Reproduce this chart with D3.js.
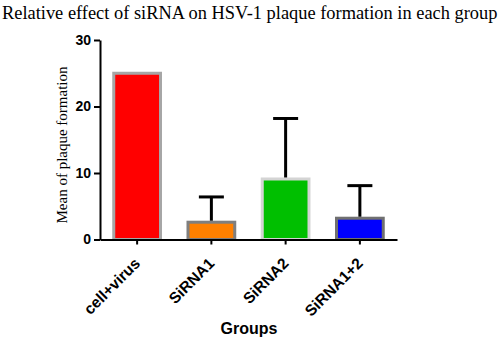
<!DOCTYPE html>
<html>
<head>
<meta charset="utf-8">
<script src="https://cdn.jsdelivr.net/npm/d3@7"></script>
<style>
  body { margin: 0; background: #fff; }
</style>
</head>
<body>
<div id="container"></div>
<script>
/* DATA */
const groups = ["cell+virus", "SiRNA1", "SiRNA2", "SiRNA1+2"];
const means = [25, 2.6, 9.1, 3.2];
const errors = [0, 3.8, 9.1, 4.9];
const yTicks = [0, 10, 20, 30];

const fills = ["#ff0000", "#ff8000", "#00bf00", "#0000ff"];
const borders = ["#a6a6a6", "#7f7f7f", "#d4d4d4", "#707070"];

const width = 500, height = 339;

const svg = d3.select("#container")
  .append("svg")
  .attr("width", width)
  .attr("height", height);

/* SCALES */
const xScale = d3.scaleBand()
  .domain(groups)
  .range([100, 397])
  .paddingInner(0.33)
  .paddingOuter(0.165);

const yScale = d3.scaleLinear()
  .domain([0, 30])
  .range([239.5, 40]);

/* TITLE */
svg.append("text")
  .attr("x", 2)
  .attr("y", 19)
  .style("font-family", "Liberation Serif, Times New Roman, serif")
  .style("font-size", "18.4px")
  .text("Relative effect of siRNA on HSV-1 plaque formation in each group");

/* BARS */
svg.selectAll(".bar")
  .data(groups)
  .join("rect")
  .attr("class", "bar")
  .attr("x", d => xScale(d) + 1.5)
  .attr("y", (d, i) => yScale(means[i]))
  .attr("width", xScale.bandwidth() - 3)
  .attr("height", (d, i) => yScale(0) - yScale(means[i]))
  .attr("fill", (d, i) => fills[i])
  .attr("stroke", (d, i) => borders[i])
  .attr("stroke-width", 3);

/* ERROR BARS */
const errG = svg.selectAll(".err")
  .data(groups.filter((d, i) => errors[i] > 0))
  .join("g")
  .attr("class", "err");

errG.append("line")
  .attr("x1", d => xScale(d) + xScale.bandwidth() / 2)
  .attr("x2", d => xScale(d) + xScale.bandwidth() / 2)
  .attr("y1", d => yScale(means[groups.indexOf(d)]) - 1.5)
  .attr("y2", d => yScale(means[groups.indexOf(d)] + errors[groups.indexOf(d)]))
  .attr("stroke", "#000")
  .attr("stroke-width", 3);

errG.append("line")
  .attr("x1", d => xScale(d) + xScale.bandwidth() / 2 - 12.5)
  .attr("x2", d => xScale(d) + xScale.bandwidth() / 2 + 12.5)
  .attr("y1", d => yScale(means[groups.indexOf(d)] + errors[groups.indexOf(d)]))
  .attr("y2", d => yScale(means[groups.indexOf(d)] + errors[groups.indexOf(d)]))
  .attr("stroke", "#000")
  .attr("stroke-width", 3);

/* AXES */
const yAxis = d3.axisLeft(yScale)
  .tickValues(yTicks)
  .tickSize(6)
  .tickSizeOuter(0)
  .tickPadding(3);

const yG = svg.append("g")
  .attr("transform", "translate(100,0)")
  .call(yAxis);
yG.select(".domain").attr("stroke", "#000").attr("stroke-width", 2);
yG.selectAll(".tick line").attr("stroke-width", 2);
yG.selectAll("text")
  .style("font-family", "Liberation Sans, Arial, sans-serif")
  .style("font-weight", "bold")
  .style("font-size", "14px")
  .attr("fill", "#000");

const xAxis = d3.axisBottom(xScale)
  .tickSize(5)
  .tickSizeOuter(0);

const xG = svg.append("g")
  .attr("transform", "translate(0,239.5)")
  .call(xAxis);
xG.select(".domain").attr("stroke", "#000").attr("stroke-width", 2);
xG.selectAll(".tick line").attr("stroke-width", 2);
xG.selectAll("text")
  .style("font-family", "Liberation Sans, Arial, sans-serif")
  .style("font-weight", "bold")
  .style("font-size", "15.5px")
  .attr("fill", "#000")
  .attr("text-anchor", "end")
  .attr("y", 0)
  .attr("dy", 0)
  .attr("transform", "translate(4,25) rotate(-45)");

/* AXIS TITLES */
svg.append("text")
  .attr("transform", "translate(67,145) rotate(-90)")
  .attr("text-anchor", "middle")
  .style("font-family", "Liberation Serif, Times New Roman, serif")
  .style("font-size", "15px")
  .text("Mean of plaque formation");

svg.append("text")
  .attr("x", 249)
  .attr("y", 334)
  .attr("text-anchor", "middle")
  .style("font-family", "Liberation Sans, Arial, sans-serif")
  .style("font-weight", "bold")
  .style("font-size", "16px")
  .text("Groups");
</script>
</body>
</html>
